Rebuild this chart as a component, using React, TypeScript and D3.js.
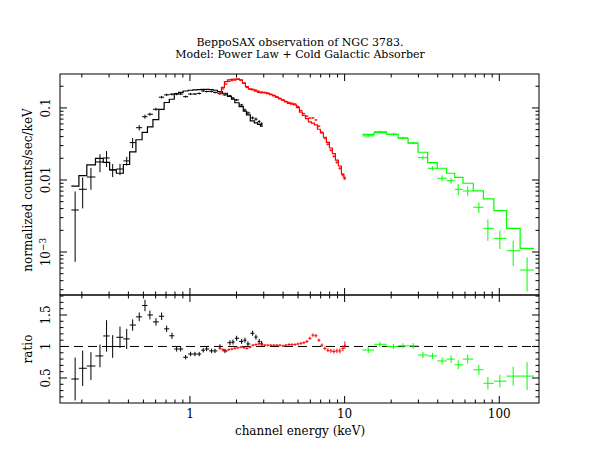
import React from 'react';
import * as d3 from 'd3';

// LECS (black), MECS (red), PDS (green): energy keV, counts/s/keV, error, model, ratio, ratio error
const blackE = [0.181, 0.2025, 0.229, 0.262, 0.289, 0.3165, 0.353, 0.39, 0.426, 0.47, 0.512, 0.551, 0.603, 0.656, 0.707, 0.765, 0.82, 0.871, 0.938, 1.01, 1.077, 1.148, 1.219, 1.282, 1.381, 1.451, 1.563, 1.684, 1.814, 1.897, 2.004, 2.159, 2.268, 2.371, 2.543, 2.671, 2.805, 2.908];
const blackData = [0.00383, 0.00743, 0.011, 0.0178, 0.0202, 0.0138, 0.0142, 0.0184, 0.033, 0.0532, 0.0757, 0.0818, 0.0959, 0.141, 0.152, 0.155, 0.156, 0.156, 0.1436, 0.156, 0.156, 0.159, 0.172, 0.169, 0.169, 0.164, 0.159, 0.152, 0.147, 0.137, 0.129, 0.11, 0.0938, 0.0853, 0.0727, 0.07, 0.0646, 0.06];
const blackErr = [0.0031, 0.0034, 0.0037, 0.005, 0.005, 0.0028, 0.0025, 0.0026, 0.0052, 0.0045, 0.005, 0.004, 0.0045, 0.006, 0.006, 0.006, 0.006, 0.005, 0.005, 0.005, 0.005, 0.005, 0.005, 0.005, 0.005, 0.005, 0.005, 0.005, 0.005, 0.005, 0.0045, 0.0042, 0.004, 0.004, 0.0035, 0.0035, 0.0035, 0.0033];
const blackModel = [0.0082, 0.0115, 0.0162, 0.02, 0.0175, 0.0138, 0.0124, 0.0164, 0.0246, 0.0362, 0.0459, 0.0545, 0.069, 0.0953, 0.119, 0.132, 0.158, 0.165, 0.172, 0.176, 0.178, 0.18, 0.181, 0.181, 0.18, 0.176, 0.168, 0.16, 0.145, 0.132, 0.118, 0.104, 0.09, 0.08, 0.066, 0.062, 0.059, 0.056];
const blackRatio = [0.484, 0.654, 0.69, 0.85, 1.167, 1.0, 1.146, 1.12, 1.34, 1.47, 1.65, 1.5, 1.39, 1.48, 1.28, 1.17, 0.96, 0.96, 0.83, 0.88, 0.88, 0.88, 0.94, 0.96, 0.93, 0.93, 1.0, 0.93, 1.06, 1.07, 1.13, 1.08, 1.1, 1.04, 1.21, 1.15, 1.08, 1.05];
const blackRatioErr = [0.34, 0.28, 0.22, 0.18, 0.25, 0.18, 0.17, 0.16, 0.09, 0.07, 0.09, 0.07, 0.06, 0.06, 0.05, 0.05, 0.04, 0.04, 0.035, 0.035, 0.035, 0.035, 0.035, 0.035, 0.035, 0.035, 0.035, 0.035, 0.04, 0.04, 0.04, 0.04, 0.04, 0.04, 0.04, 0.04, 0.04, 0.04];

const redE = [1.563, 1.634, 1.709, 1.787, 1.869, 1.954, 2.043, 2.136, 2.234, 2.336, 2.442, 2.554, 2.671, 2.793, 2.92, 3.053, 3.193, 3.339, 3.491, 3.651, 3.817, 3.991, 4.174, 4.365, 4.564, 4.772, 4.99, 5.218, 5.456, 5.705, 5.966, 6.238, 6.523, 6.821, 7.132, 7.458, 7.799, 8.155, 8.527, 8.917, 9.324, 9.75, 10.04];
const redData = [0.1565, 0.1836, 0.2154, 0.2334, 0.2394, 0.2433, 0.2488, 0.2425, 0.2189, 0.1926, 0.1818, 0.1818, 0.1767, 0.1705, 0.1668, 0.1647, 0.1616, 0.1555, 0.1501, 0.1431, 0.1364, 0.13, 0.1235, 0.1196, 0.1166, 0.1137, 0.1052, 0.092, 0.0833, 0.0769, 0.0722, 0.0727, 0.0681, 0.0557, 0.046, 0.038, 0.0313, 0.0259, 0.0213, 0.0176, 0.01454, 0.01173, 0.01066];
const redErr = [0.004, 0.0045, 0.005, 0.005, 0.005, 0.005, 0.005, 0.005, 0.0045, 0.004, 0.004, 0.004, 0.004, 0.004, 0.0038, 0.0037, 0.0036, 0.0035, 0.0034, 0.0033, 0.0032, 0.0031, 0.003, 0.003, 0.003, 0.0029, 0.0028, 0.0025, 0.0023, 0.0022, 0.0021, 0.0021, 0.002, 0.0017, 0.0015, 0.0013, 0.0011, 0.001, 0.0009, 0.0008, 0.0007, 0.0006, 0.0006];
const redModel = [0.1613, 0.1933, 0.2316, 0.2457, 0.2494, 0.2508, 0.2539, 0.2449, 0.2234, 0.1986, 0.1836, 0.1782, 0.1716, 0.1639, 0.1619, 0.1615, 0.1584, 0.1525, 0.1472, 0.1403, 0.1337, 0.1287, 0.1211, 0.1161, 0.1132, 0.1104, 0.1012, 0.0876, 0.0786, 0.0712, 0.0639, 0.0616, 0.0582, 0.0506, 0.0451, 0.0392, 0.0333, 0.0278, 0.0232, 0.0189, 0.01563, 0.01209, 0.01045];
const redRatio = [0.97, 0.95, 0.93, 0.95, 0.96, 0.97, 0.98, 0.99, 0.98, 0.97, 0.99, 1.02, 1.03, 1.04, 1.03, 1.02, 1.02, 1.02, 1.02, 1.02, 1.02, 1.01, 1.02, 1.03, 1.03, 1.03, 1.04, 1.05, 1.06, 1.08, 1.13, 1.18, 1.17, 1.1, 1.02, 0.97, 0.94, 0.93, 0.92, 0.93, 0.93, 0.97, 1.02];
const redRatioErr = [0.025, 0.022, 0.02, 0.02, 0.02, 0.02, 0.02, 0.02, 0.02, 0.02, 0.02, 0.02, 0.02, 0.02, 0.02, 0.02, 0.02, 0.02, 0.02, 0.02, 0.02, 0.02, 0.022, 0.022, 0.022, 0.022, 0.022, 0.024, 0.024, 0.025, 0.026, 0.027, 0.028, 0.028, 0.028, 0.03, 0.03, 0.032, 0.034, 0.036, 0.04, 0.045, 0.06];

const greenE = [14.21, 16.91, 20.68, 23.83, 27.76, 32.07, 36.95, 42.69, 48.8, 54.25, 62.47, 73.8, 84.4, 100.9, 123.0, 151.2];
const greenData = [0.041, 0.0468, 0.0431, 0.0383, 0.0327, 0.0204, 0.01454, 0.01056, 0.00978, 0.00743, 0.00704, 0.00418, 0.00213, 0.00155, 0.00104, 0.000562];
const greenErr = [0.0018, 0.0018, 0.0016, 0.0015, 0.0014, 0.0013, 0.001, 0.001, 0.0009, 0.0013, 0.0011, 0.0007, 0.0007, 0.00045, 0.0004, 0.00028];
const greenModel = [0.043, 0.0455, 0.0431, 0.038, 0.0324, 0.02425, 0.01739, 0.01454, 0.01239, 0.0109, 0.009, 0.00704, 0.00545, 0.00375, 0.00213, 0.001125];
const greenRatio = [0.944, 1.035, 1.0, 1.01, 1.01, 0.865, 0.85, 0.77, 0.8, 0.71, 0.8, 0.63, 0.416, 0.45, 0.53, 0.53];
const greenRatioErr = [0.05, 0.04, 0.04, 0.04, 0.045, 0.05, 0.05, 0.055, 0.06, 0.07, 0.07, 0.08, 0.1, 0.1, 0.15, 0.22];

const W = 599, H = 463;
const L = 60, R = 539, T1 = 74, B1 = 295, T2 = 295, B2 = 403;
const FONT = 'DejaVu Serif';
const FS = 12;

const x = d3.scaleLog().domain([0.1445, 180.6]).range([L, R]);
const y1 = d3.scaleLog().domain([2.53e-4, 0.296]).range([B1, T1]);
const y2 = d3.scaleLinear().domain([0.103, 1.817]).range([B2, T2]);

// bin edges halfway (in log) between neighbouring channels
function binEdges(e: number[]) {
  const n = e.length;
  return e.map((v, i) => {
    const lo = i === 0 ? v / Math.sqrt(e[1] / v) : Math.sqrt(e[i - 1] * v);
    const hi = i === n - 1 ? v * Math.sqrt(v / e[n - 2]) : Math.sqrt(v * e[i + 1]);
    return [lo, hi];
  });
}

type Set = { e: number[]; data: number[]; err: number[]; model: number[]; ratio: number[]; rerr: number[]; color: string };
const sets: Set[] = [
  { e: blackE, data: blackData, err: blackErr, model: blackModel, ratio: blackRatio, rerr: blackRatioErr, color: '#000' },
  { e: redE, data: redData, err: redErr, model: redModel, ratio: redRatio, rerr: redRatioErr, color: '#ff0000' },
  { e: greenE, data: greenData, err: greenErr, model: greenModel, ratio: greenRatio, rerr: greenRatioErr, color: '#00ff00' },
];

function Crosses({ s, ys, vals, errs }: { s: Set; ys: any; vals: number[]; errs: number[] }) {
  const bins = binEdges(s.e);
  const floor = ys.domain()[0] * 0.5;
  return (
    <g stroke={s.color} strokeWidth={1} fill="none">
      {s.e.map((e, i) => {
        const v = vals[i];
        const lo = Math.max(v - errs[i], floor);
        return (
          <g key={i}>
            <line x1={x(bins[i][0])} x2={x(bins[i][1])} y1={ys(v)} y2={ys(v)} />
            <line x1={x(e)} x2={x(e)} y1={ys(lo)} y2={ys(v + errs[i])} />
          </g>
        );
      })}
    </g>
  );
}

function ModelStep({ s }: { s: Set }) {
  const bins = binEdges(s.e);
  const pts: [number, number][] = [];
  s.model.forEach((m, i) => {
    pts.push([x(bins[i][0]), y1(m)]);
    pts.push([x(bins[i][1]), y1(m)]);
  });
  return <path d={d3.line()(pts) || ''} stroke={s.color} strokeWidth={1.2} fill="none" />;
}

function Frame({ top, bottom, ys, linear }: { top: number; bottom: number; ys: any; linear?: boolean }) {
  const xt = x.ticks();
  const yt: number[] = linear ? ys.ticks(17) : ys.ticks();
  const isMajX = (v: number) => Math.abs(Math.log10(v) - Math.round(Math.log10(v))) < 1e-6;
  const isMajY = (v: number) => linear ? Math.abs(v * 2 - Math.round(v * 2)) < 1e-6 : isMajX(v);
  const big = 7, small = 3.5;
  return (
    <g stroke="#000" strokeWidth={1} fill="none">
      <rect x={L} y={top} width={R - L} height={bottom - top} />
      {xt.map((v, i) => {
        const len = isMajX(v) ? big : small;
        const px = x(v);
        return (
          <g key={'x' + i}>
            <line x1={px} x2={px} y1={top} y2={top + len} />
            <line x1={px} x2={px} y1={bottom} y2={bottom - len} />
          </g>
        );
      })}
      {yt.map((v, i) => {
        const len = isMajY(v) ? big : small;
        const py = ys(v);
        if (py < top - 0.1 || py > bottom + 0.1) return null;
        return (
          <g key={'y' + i}>
            <line x1={L} x2={L + len} y1={py} y2={py} />
            <line x1={R} x2={R - len} y1={py} y2={py} />
          </g>
        );
      })}
    </g>
  );
}

function RotLabel({ cx, cy, children }: { cx: number; cy: number; children: any }) {
  return (
    <text transform={`translate(${cx},${cy}) rotate(-90)`} textAnchor="middle" fontFamily={FONT} fontSize={FS}>
      {children}
    </text>
  );
}

export default function App() {
  return (
    <svg width={W} height={H} style={{ position: 'absolute', left: 0, top: 0, background: '#fff' }}>
      <defs>
        <clipPath id="c1"><rect x={L} y={T1} width={R - L} height={B1 - T1} /></clipPath>
        <clipPath id="c2"><rect x={L} y={T2} width={R - L} height={B2 - T2} /></clipPath>
      </defs>

      <g fontFamily={FONT} fontSize={11} textAnchor="middle">
        <text x={300} y={45.5}>BeppoSAX observation of NGC 3783.</text>
        <text x={300} y={57.5}>Model: Power Law + Cold Galactic Absorber</text>
      </g>

      <g clipPath="url(#c1)">
        {sets.map((s, k) => (
          <g key={k}>
            <Crosses s={s} ys={y1} vals={s.data} errs={s.err} />
            <ModelStep s={s} />
          </g>
        ))}
      </g>

      <g clipPath="url(#c2)">
        <line x1={L} x2={R} y1={y2(1)} y2={y2(1)} stroke="#000" strokeWidth={1} strokeDasharray="9,5" />
        {sets.map((s, k) => (
          <Crosses key={k} s={s} ys={y2} vals={s.ratio} errs={s.rerr} />
        ))}
      </g>

      <Frame top={T1} bottom={B1} ys={y1} />
      <Frame top={T2} bottom={B2} ys={y2} linear />

      <g fontFamily={FONT} fontSize={FS} textAnchor="middle">
        {[1, 10, 100].map(v => (
          <text key={v} x={x(v)} y={418}>{v}</text>
        ))}
        <text x={300} y={435}>channel energy (keV)</text>
      </g>

      <RotLabel cx={50} cy={y1(0.1)}>0.1</RotLabel>
      <RotLabel cx={50} cy={y1(0.01)}>0.01</RotLabel>
      <RotLabel cx={50} cy={y1(0.001)}>
        10<tspan dy={-4} fontSize={9}>−3</tspan>
      </RotLabel>
      <RotLabel cx={50} cy={y2(1.5)}>1.5</RotLabel>
      <RotLabel cx={50} cy={y2(1)}>1</RotLabel>
      <RotLabel cx={50} cy={y2(0.5)}>0.5</RotLabel>

      <RotLabel cx={32} cy={190}>normalized counts/sec/keV</RotLabel>
      <RotLabel cx={32} cy={349}>ratio</RotLabel>
    </svg>
  );
}
